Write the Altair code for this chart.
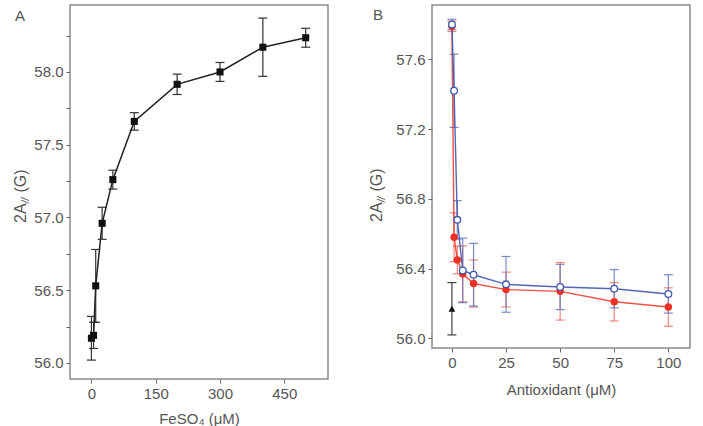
import altair as alt
import pandas as pd

# Panel A: 2A// versus FeSO4 concentration
fe_x = [0, 5, 10, 25, 50, 100, 200, 300, 400, 500]
fe_y = [56.17, 56.19, 56.53, 56.96, 57.26, 57.66, 57.915, 58.0, 58.17, 58.235]
fe_err = [0.15, 0.09, 0.25, 0.11, 0.065, 0.06, 0.07, 0.065, 0.2, 0.065]

# Panel B: 2A// versus antioxidant concentration, two antioxidants
ao_x = [0, 1, 2.5, 5, 10, 25, 50, 75, 100]
blue_y = [57.80, 57.42, 56.68, 56.39, 56.365, 56.31, 56.295, 56.285, 56.255]
blue_err = [0.03, 0.21, 0.11, 0.185, 0.18, 0.16, 0.13, 0.11, 0.11]
red_y = [57.79, 56.58, 56.45, 56.37, 56.315, 56.28, 56.27, 56.21, 56.18]
red_err = [0.03, 0.14, 0.08, 0.16, 0.135, 0.10, 0.165, 0.11, 0.11]
ctrl_x = [0]
ctrl_y = [56.17]
ctrl_err = [0.15]

FONT = "Liberation Sans"
LABEL = "#555555"


def table(x, y, err):
    df = pd.DataFrame({"x": x, "y": y, "err": err})
    df["lo"] = df["y"] - df["err"]
    df["hi"] = df["y"] + df["err"]
    return df


def errbars(df, xs, ys, color, opacity=1.0):
    base = alt.Chart(df)
    stem = base.mark_rule(color=color, strokeWidth=1.2, opacity=opacity).encode(
        x=alt.X("x:Q", scale=xs), y=alt.Y("lo:Q", scale=ys), y2="hi:Q"
    )
    cap_lo = base.mark_tick(orient="horizontal", size=9, thickness=1.2,
                            color=color, opacity=opacity).encode(
        x=alt.X("x:Q", scale=xs), y=alt.Y("lo:Q", scale=ys)
    )
    cap_hi = base.mark_tick(orient="horizontal", size=9, thickness=1.2,
                            color=color, opacity=opacity).encode(
        x=alt.X("x:Q", scale=xs), y=alt.Y("hi:Q", scale=ys)
    )
    return stem + cap_lo + cap_hi


def text_at(s, dx, dy, size=15, angle=0, italic=False, align="left",
            baseline="middle"):
    style = {"fontStyle": "italic"} if italic else {}
    return alt.Chart(pd.DataFrame({"t": [s]})).mark_text(
        font=FONT, fontSize=size, color=LABEL, align=align, baseline=baseline,
        angle=angle, **style
    ).encode(text="t:N", x=alt.value(dx), y=alt.value(dy))


def y_title(xb, ybottom):
    # rotated "2A// (G)" with the // drawn as a subscript
    return alt.layer(
        text_at("2A", xb, ybottom, size=16, angle=270, baseline="alphabetic"),
        text_at("//", xb + 3, ybottom - 19.8, size=10, angle=270, italic=True,
                baseline="alphabetic"),
        text_at("(G)", xb, ybottom - 30.5, size=16, angle=270,
                baseline="alphabetic"),
    )


# ---- Panel A ----
fe = table(fe_x, fe_y, fe_err)
xa = alt.Scale(domain=[-50, 552], nice=False, zero=False)
ya = alt.Scale(domain=[55.89, 58.46], nice=False, zero=False)

xa_axis = alt.Axis(
    title="FeSO₄ (μM)", values=[0, 75, 150, 225, 300, 375, 450, 525],
    labelExpr="datum.value % 150 == 0 ? datum.label : ''", grid=False,
    titlePadding=10,
)
ya_axis = alt.Axis(
    title=None, values=[56.0 + 0.25 * i for i in range(10)],
    labelExpr="round(datum.value * 100) % 50 == 0 ? format(datum.value, '.1f') : ''",
    grid=False,
)

a_line = alt.Chart(fe).mark_line(color="#222222", strokeWidth=1.5).encode(
    x=alt.X("x:Q", scale=xa, axis=xa_axis), y=alt.Y("y:Q", scale=ya, axis=ya_axis)
)
a_pts = alt.Chart(fe).mark_square(size=50, color="#111111", opacity=1).encode(
    x=alt.X("x:Q", scale=xa), y=alt.Y("y:Q", scale=ya)
)
panel_a = alt.layer(
    errbars(fe, xa, ya, "#333333"), a_line, a_pts,
    text_at("A", -55, 11, size=15),
    y_title(-44, 218),
).properties(width=258, height=374)

# ---- Panel B ----
blue = table(ao_x, blue_y, blue_err)
red = table(ao_x, red_y, red_err)
ctrl = table(ctrl_x, ctrl_y, ctrl_err)

xb = alt.Scale(domain=[-9.2, 110], nice=False, zero=False)
yb = alt.Scale(domain=[55.945, 57.912], nice=False, zero=False)

xb_axis = alt.Axis(
    title="Antioxidant (μM)", values=[12.5 * i for i in range(9)],
    labelExpr="datum.value % 25 == 0 ? datum.label : ''", grid=False,
    titlePadding=12,
)
yb_axis = alt.Axis(
    title=None, values=[56.0 + 0.2 * i for i in range(10)],
    labelExpr="round(datum.value * 10) % 4 == 0 ? format(datum.value, '.1f') : ''",
    grid=False,
)

BLUE = "#3f58ad"
RED = "#ee3124"

red_line = alt.Chart(red).mark_line(color=RED, strokeWidth=1.4, opacity=0.85).encode(
    x=alt.X("x:Q", scale=xb, axis=xb_axis), y=alt.Y("y:Q", scale=yb, axis=yb_axis)
)
blue_line = alt.Chart(blue).mark_line(color=BLUE, strokeWidth=1.4, opacity=0.9).encode(
    x=alt.X("x:Q", scale=xb), y=alt.Y("y:Q", scale=yb)
)
red_pts = alt.Chart(red).mark_circle(size=55, color=RED, opacity=1).encode(
    x=alt.X("x:Q", scale=xb), y=alt.Y("y:Q", scale=yb)
)
blue_pts = alt.Chart(blue).mark_point(
    size=45, shape="circle", filled=True, fill="white", stroke=BLUE,
    strokeWidth=1.3, opacity=1
).encode(x=alt.X("x:Q", scale=xb), y=alt.Y("y:Q", scale=yb))
ctrl_pts = alt.Chart(ctrl).mark_point(
    shape="triangle-up", size=45, filled=True, color="#111111", opacity=1
).encode(x=alt.X("x:Q", scale=xb), y=alt.Y("y:Q", scale=yb))

panel_b = alt.layer(
    errbars(red, xb, yb, "#f26a5e", 0.8),
    errbars(blue, xb, yb, "#5a70bb", 0.8),
    errbars(ctrl, xb, yb, "#444444"),
    red_line, blue_line, red_pts, blue_pts, ctrl_pts,
    text_at("B", -59, 10, size=15),
    y_title(-50, 217),
).properties(width=258, height=343)

chart = alt.hconcat(panel_a, panel_b, spacing=39).properties(
    padding={"left": 12, "top": 4, "right": 5, "bottom": 0},
    background="white",
).configure_view(
    stroke="#8a8a8a", strokeWidth=1.5
).configure_axis(
    domain=False, tickColor="#666666", tickSize=4, tickWidth=1,
    labelFont=FONT, labelFontSize=15, labelColor=LABEL, labelPadding=3,
    titleFont=FONT, titleFontSize=15, titleColor=LABEL, titleFontWeight="normal",
)

chart.save("out.html", embed_options={"renderer": "svg", "actions": False})
